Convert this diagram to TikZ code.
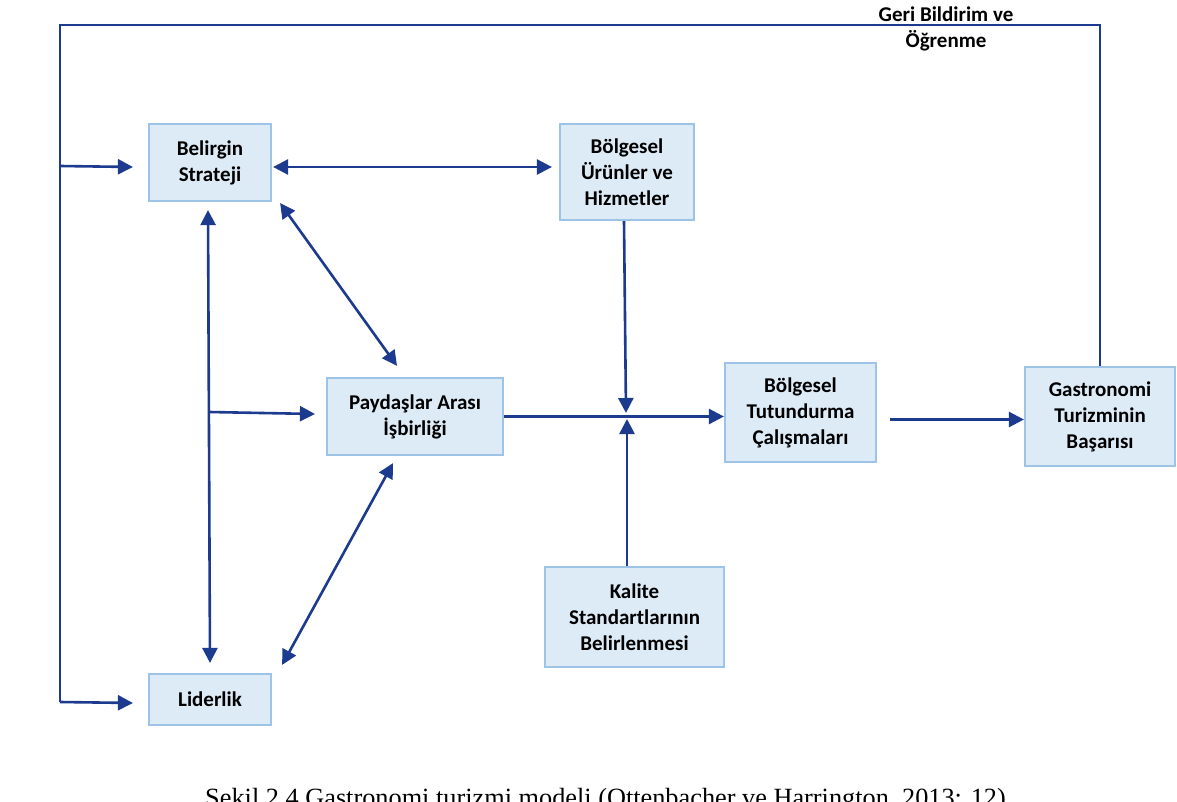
\documentclass[tikz,border=0pt]{standalone}
\usepackage{fontspec}
\setmainfont{Carlito}
\newfontfamily\captionfont{Liberation Serif}
\usetikzlibrary{arrows.meta}

\definecolor{boxfill}{HTML}{DDEBF7}
\definecolor{boxline}{HTML}{9DC3E6}
\definecolor{linkblue}{HTML}{1C3A8E}

\tikzset{
  block/.style={draw=boxline, fill=boxfill, line width=2.2pt, inner sep=0pt,
    align=center, font=\bfseries\fontsize{21}{26}\selectfont},
  link/.style={draw=linkblue, line width=2.6pt, line join=miter},
  onearrow/.style={link, -{Triangle[length=15pt,width=15pt]}},
  twoarrow/.style={link, {Triangle[length=15pt,width=15pt]}-{Triangle[length=15pt,width=15pt]}},
  label/.style={align=center, inner sep=0pt, font=\bfseries\fontsize{21}{26}\selectfont}
}

\begin{document}
\begin{tikzpicture}[x=1pt, y=-1pt]
  \useasboundingbox (0,0) rectangle (1177,802);
  \clip (0,0) rectangle (1177,802);
  \fill[white] (0,0) rectangle (1177,802);

  % boxes
  \node[block, minimum width=122pt, minimum height=77pt] (bs) at (210,162.5) {Belirgin\\Strateji};
  \node[block, minimum width=134pt, minimum height=96pt] (bu) at (627,172) {Bölgesel\\Ürünler ve\\Hizmetler};
  \node[block, minimum width=176pt, minimum height=77pt] (pay) at (415,416.5) {Paydaşlar Arası\\İşbirliği};
  \node[block, minimum width=151pt, minimum height=99pt] (tut) at (800.5,412.5) {Bölgesel\\Tutundurma\\Çalışmaları};
  \node[block, minimum width=150pt, minimum height=99pt] (gas) at (1100,416.5) {Gastronomi\\Turizminin\\Başarısı};
  \node[block, minimum width=179pt, minimum height=100pt] (kal) at (634.5,617) {Kalite\\Standartlarının\\Belirlenmesi};
  \node[block, minimum width=122pt, minimum height=51pt] (lid) at (210,699.5) {Liderlik};

  % feedback loop
  \coordinate (fbtop) at (60,25);
  \coordinate (fbmid) at (60,166);
  \coordinate (fbbot) at (60,702);
  \draw[link] (gas.north) |- (fbtop) -- (fbbot);
  \draw[onearrow] (fbmid) -- ([shift={(-15,4.5)}]bs.west);
  \draw[onearrow] (fbbot) -- ([shift={(-15,3.5)}]lid.west);
  \node[label] (fb) at (946,29) {Geri Bildirim ve\\Öğrenme};

  % links around the strategy
  \draw[twoarrow] ([shift={(1,4.5)}]bs.east) -- ([shift={(-7,-5)}]bu.west);
  \draw[twoarrow] ([shift={(-2,8)}]bs.south) -- ([shift={(0,-10)}]lid.north);
  \coordinate (vj) at (209,412);
  \draw[onearrow] (vj) -- ([shift={(-11,-2.5)}]pay.west);
  \draw[twoarrow] ([shift={(8,1)}]bs.south east) -- ([shift={(-18,-11)}]pay.north);
  \draw[twoarrow] ([shift={(10,-8)}]lid.north east) -- ([shift={(-22,7)}]pay.south);

  % main flow
  \coordinate (jn) at (627,416);
  \draw[onearrow] (pay.east) -- (pay.east -| tut.west);
  \draw[onearrow] ([shift={(-3,0)}]bu.south) -- ([shift={(-1,-3)}]jn);
  \draw[onearrow] (kal.north -| jn) -- ([shift={(0,3)}]jn);
  \draw[onearrow] ([shift={(13,7)}]tut.east) -- ([shift={(0,3)}]gas.west);

  % caption
  \node[anchor=base, inner sep=0pt, font=\captionfont\fontsize{26.3}{30}\selectfont] (cap) at (605.5,806)
    {Şekil 2.4 Gastronomi turizmi modeli (Ottenbacher ve Harrington, 2013: 12)};
\end{tikzpicture}
\end{document}
